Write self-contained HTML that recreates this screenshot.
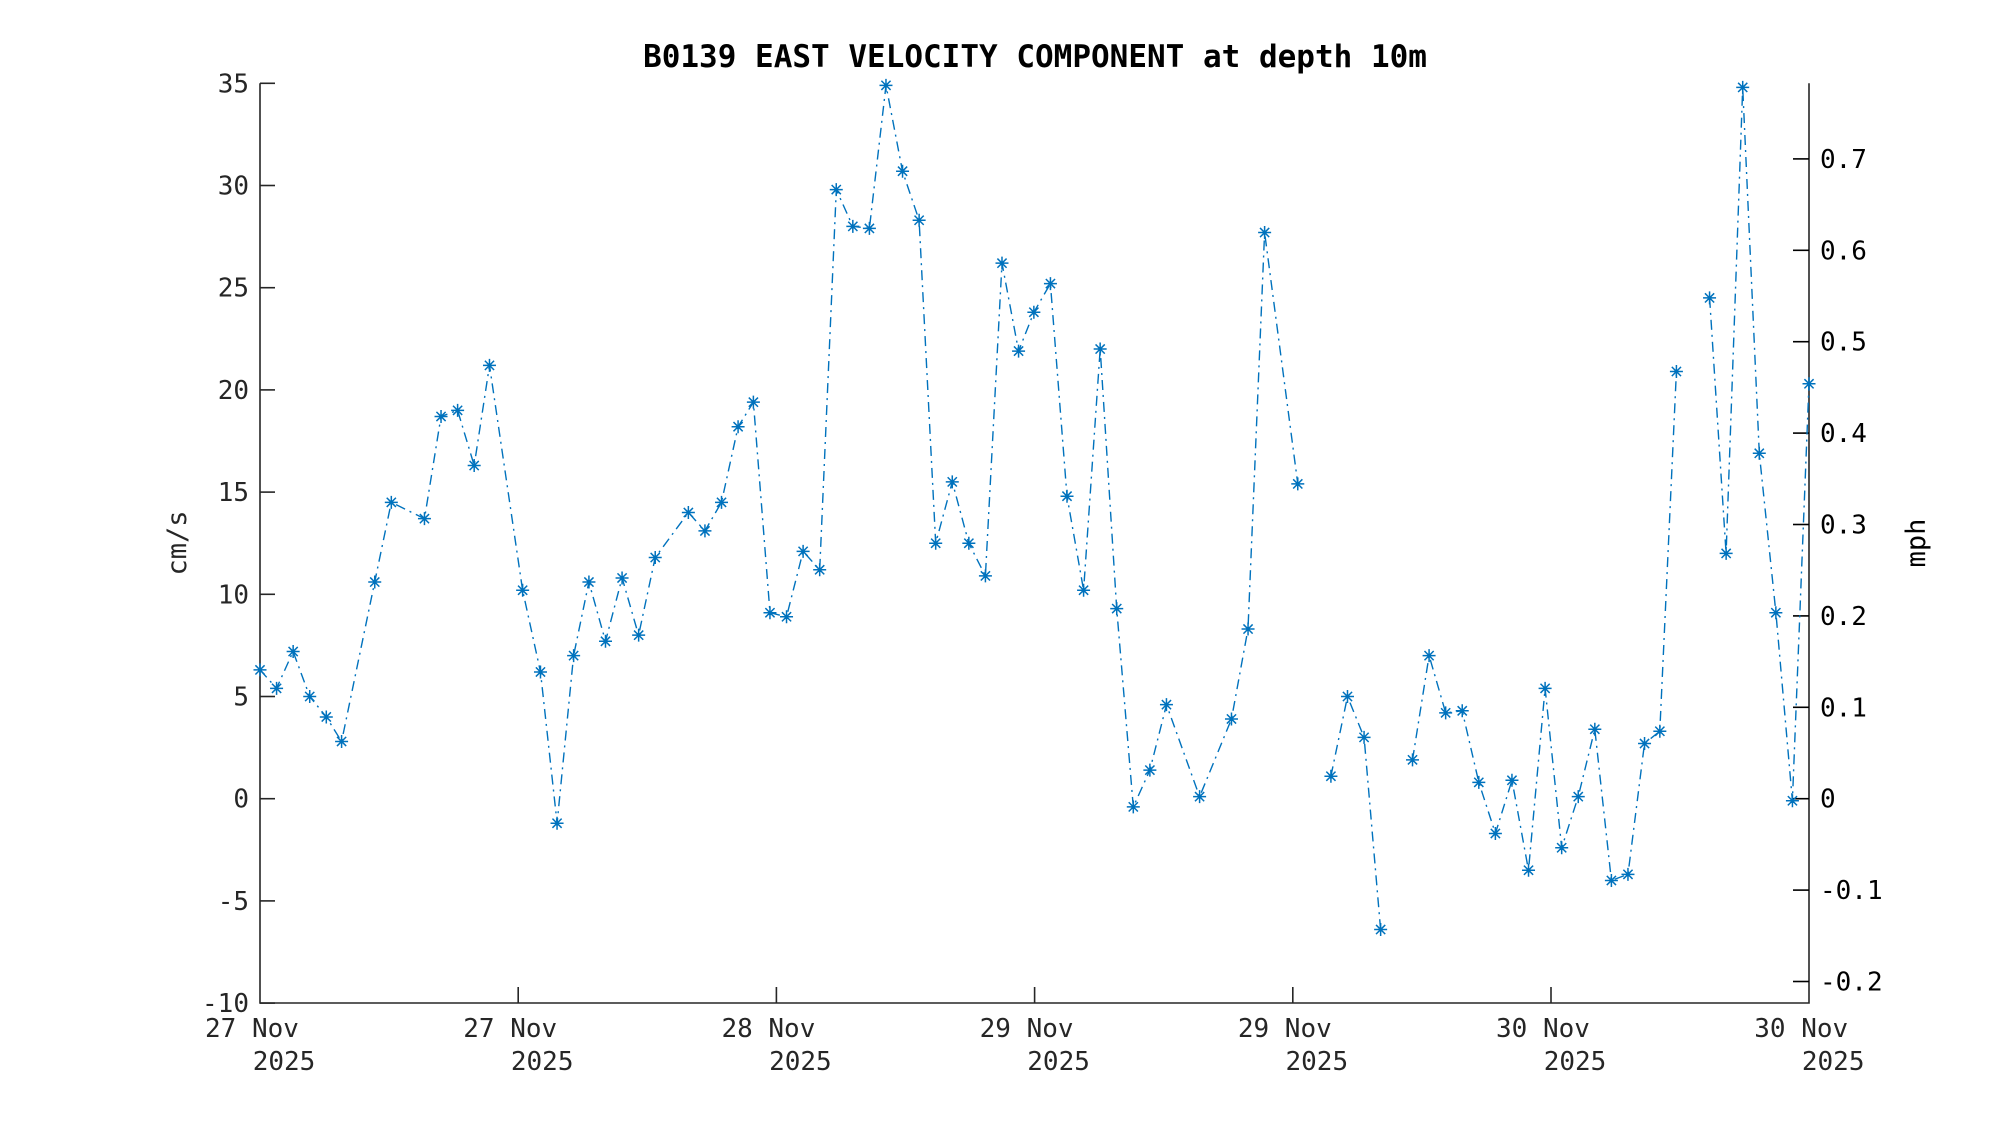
<!DOCTYPE html>
<html><head><meta charset="utf-8"><style>
html,body{margin:0;padding:0;background:#fff;}
svg{display:block;font-family:"DejaVu Sans Mono","Liberation Mono",monospace;}
</style></head><body>
<svg id="s" width="2000" height="1125" xmlns="http://www.w3.org/2000/svg"></svg>
<script>
const s=document.getElementById('s');
let h='';
const L=260,R=1809,T=83.3,B=1003;
const Y=v=>T+(35-v)*20.44;
const X=xd=>L+(xd-204)*1.2749;
h+=`<rect width="2000" height="1125" fill="#fff"/>`;
h+=`<text x="1035" y="67" font-size="31" font-weight="bold" text-anchor="middle" fill="#000">B0139 EAST VELOCITY COMPONENT at depth 10m</text>`;
h+=`<path d="M${L},${T}V${B}H${R}V${T}" fill="none" stroke="#262626" stroke-width="1.6"/>`;
for(let v=-10;v<=35;v+=5){const y=Y(v);
 h+=`<line x1="${L}" x2="${L+15}" y1="${y}" y2="${y}" stroke="#262626" stroke-width="1.6"/>`;
 h+=`<text x="${L-11}" y="${y+9}" font-size="26" text-anchor="end" fill="#262626">${v}</text>`;}
for(let i=-2;i<=7;i++){const v=i/10;const y=Y(0)-v*914;
 h+=`<line x1="${R-16}" x2="${R}" y1="${y}" y2="${y}" stroke="#000" stroke-width="1.6"/>`;
 h+=`<text x="${R+11}" y="${y+9}" font-size="26" fill="#000">${i==0?'0':v.toFixed(1)}</text>`;}
const days=['27 Nov','27 Nov','28 Nov','29 Nov','29 Nov','30 Nov','30 Nov'];
for(let i=0;i<7;i++){const x=L+i*258.2;
 if(i>0&&i<6)h+=`<line x1="${x}" x2="${x}" y1="${B}" y2="${B-16}" stroke="#262626" stroke-width="1.6"/>`;
 h+=`<text x="${x-8}" y="${B+34}" font-size="26" text-anchor="middle" fill="#262626">${days[i]}</text>`;
 h+=`<text x="${x+24}" y="${B+67}" font-size="26" text-anchor="middle" fill="#262626">2025</text>`;}
h+=`<text transform="translate(186,543) rotate(-90)" font-size="27" text-anchor="middle" fill="#262626">cm/s</text>`;
h+=`<text transform="translate(1925,543) rotate(-90)" font-size="27" text-anchor="middle" fill="#000">mph</text>`;
const d=[[204,6.3],[217,5.4],[230,7.2],[243,5.0],[256,4.0],[268,2.8],[294,10.6],[307,14.5],[333,13.7],[346,18.7],[359,19.0],[372,16.3],[384,21.2],[410,10.2],[424,6.2],[437,-1.2],[450,7.0],[462,10.6],[475,7.7],[488,10.8],[501,8.0],[514,11.8],[540,14.0],[553,13.1],[566,14.5],[579,18.2],[591,19.4],[604,9.1],[617,8.9],[630,12.1],[643,11.2],[656,29.8],[669,28.0],[682,27.9],[695,34.9],[708,30.7],[721,28.3],[734,12.5],[747,15.5],[760,12.5],[773,10.9],[786,26.2],[799,21.9],[811,23.8],[824,25.2],[837,14.8],[850,10.2],[863,22.0],[876,9.3],[889,-0.4],[902,1.4],[915,4.6],[941,0.1],[966,3.9],[979,8.3],[992,27.7],[1018,15.4],null,[1044,1.1],[1057,5.0],[1070,3.0],[1083,-6.4],null,[1108,1.9],[1121,7.0],[1134,4.2],[1147,4.3],[1160,0.8],[1173,-1.7],[1186,0.9],[1199,-3.5],[1212,5.4],[1225,-2.4],[1238,0.1],[1251,3.4],[1264,-4.0],[1277,-3.7],[1290,2.7],[1302,3.3],[1315,20.9],null,[1341,24.5],[1354,12.0],[1367,34.8],[1380,16.9],[1393,9.1],[1406,-0.1],[1419,20.3]];
let p='',m=true,mk='';
for(const q of d){if(!q){m=true;continue;}const x=X(q[0]),y=Y(q[1]);
 p+=(m?'M':'L')+x.toFixed(1)+','+y.toFixed(1);m=false;
 const r=6.5,r2=4.6;
 mk+=`M${x-r},${y}h${2*r}M${x},${y-r}v${2*r}M${x-r2},${y-r2}l${2*r2},${2*r2}M${x-r2},${y+r2}l${2*r2},${-2*r2}`;}
h+=`<path d="${p}" fill="none" stroke="#0072BD" stroke-width="1.4" stroke-dasharray="10,5,2,5"/>`;
h+=`<path d="${mk}" fill="none" stroke="#0072BD" stroke-width="1.5"/>`;
s.innerHTML=h;
</script>
</body></html>
